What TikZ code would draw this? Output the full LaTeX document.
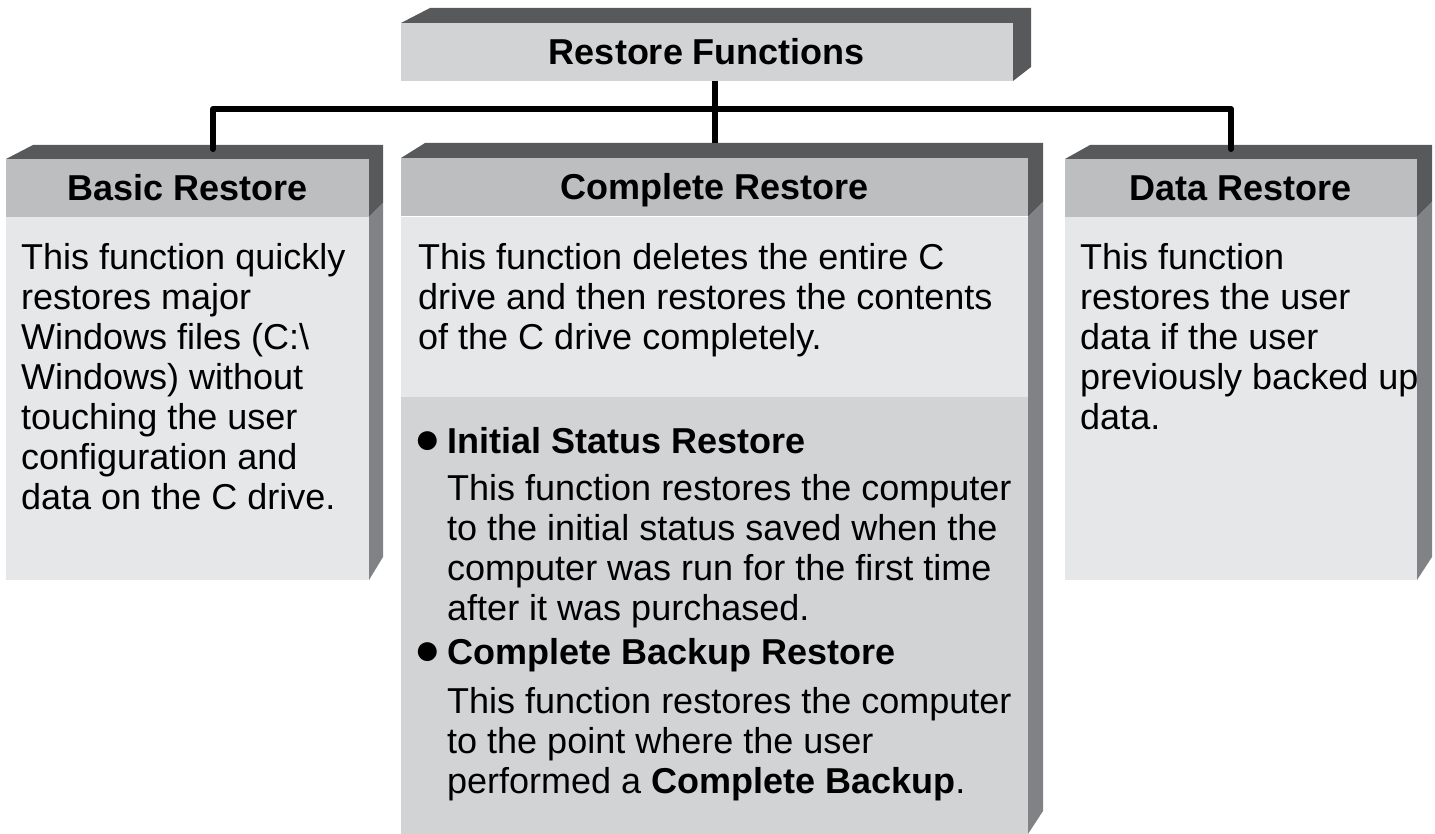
\documentclass[tikz,border=0pt]{standalone}
\usepackage{fontspec}
\usepackage{graphicx}
\setmainfont{Liberation Sans}
\usetikzlibrary{calc}

\definecolor{edgegray}{HTML}{58595B}
\definecolor{sidegray}{HTML}{808285}
\definecolor{headgray}{HTML}{BCBEC0}
\definecolor{bodygray}{HTML}{E6E7E8}
\definecolor{lowgray}{HTML}{D1D3D4}

\newcommand{\boxfont}{\fontsize{36}{40}\selectfont}
\newcommand{\bulletmark}{\makebox[31pt][l]{\hspace{-2pt}\scalebox{1.22}{●}}}

\begin{document}
\begin{tikzpicture}[
      x=1pt, y=-1pt, % Pixelraster, y nach unten
      font=\boxfont,
      head/.style={fill=headgray, minimum height=58pt, text height=25pt, text depth=0pt, inner sep=0pt, font=\boxfont\bfseries}, % Kopfzeile
      bodytext/.style={anchor=north west, inner sep=0pt, align=left, font=\boxfont}, % Fliesstext
      bullethead/.style={bodytext, font=\boxfont\bfseries}, % Aufzaehlung
      link/.style={line width=6pt, line cap=round, line join=round}, % Verbindungslinien
    ]
    \useasboundingbox (0,0) rectangle (1435,834);

    % Kanten der Kaesten
    \foreach \xl/\dx/\xr/\sx/\yt/\yf/\yb in {6/27/369/14/145/159/580, 401/24/1028/15/143/158/834, 1065/25/1417/15/145/159/580}{
      \fill[edgegray] (\xl,\yf) -- (\xl+\dx,\yt) -- (\xr+\sx,\yt) -- (\xr+\sx,217-\sx) -- (\xr,217) -- (\xr,\yf) -- cycle;
      \fill[sidegray] (\xr,217) -- (\xr+\sx,217-\sx) -- (\xr+\sx,\yb-23) -- (\xr,\yb) -- cycle;
      \fill[bodygray] (\xl,217) rectangle (\xr,\yb);
    }
    \fill[lowgray] (401,397) rectangle (1028,834);
    \fill[edgegray] (401,23) -- (430,8) -- (1031,8) -- (1031,67) -- (1013,81) -- (1013,23) -- cycle;

    % Kopfzeilen
    \node[head, fill=lowgray, minimum width=612pt] (title) at (707,52) {Restore Functions};
    \node[head, minimum width=363pt] (basic) at (187.5,188) {Basic Restore};
    \node[head, minimum width=627pt] (complete) at (714.5,187.5) {Complete Restore};
    \node[head, minimum width=352pt] (data) at (1241,188) {Data Restore};

    % Verbindungen
    \coordinate (bus) at (715,109);
    \coordinate (cmid) at (715,143);
    \coordinate (bleft) at (213,149);
    \coordinate (dright) at (1231,149);
    \draw[link, line cap=butt] (title.south -| bus) -- (cmid);
    \draw[link] (bleft) |- (bus) -| (dright);

    % Texte
    \node[bodytext] (basic-txt) at (21,241) {\strut This function quickly\\restores major\\Windows files (C:\textbackslash\\Windows) without\\touching the user\\configuration and\\data on the C drive.};
    \node[bodytext] (complete-txt) at (418,241) {\strut This function deletes the entire C\\drive and then restores the contents\\of the C drive completely.};
    \node[bullethead] (initial) at (416,425) {\strut\bulletmark Initial Status Restore};
    \node[bodytext] (initial-txt) at (447,472) {\strut This function restores the computer\\to the initial status saved when the\\computer was run for the first time\\after it was purchased.};
    \node[bullethead] (backup) at (416,636) {\strut\bulletmark Complete Backup Restore};
    \node[bodytext] (backup-txt) at (447,685) {\strut This function restores the computer\\to the point where the user\\performed a \textbf{Complete Backup}.};
    \node[bodytext] (data-txt) at (1080,241) {\strut This function\\restores the user\\data if the user\\previously backed up\\data.};

  \end{tikzpicture}
\end{document}
